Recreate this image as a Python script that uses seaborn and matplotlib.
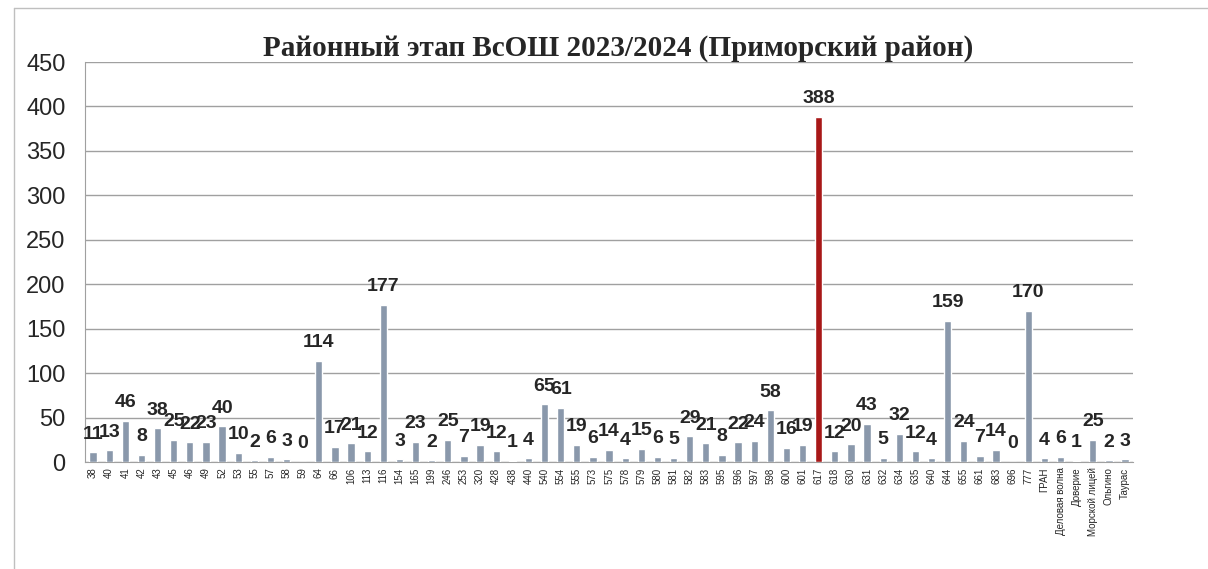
import numpy as np
import pandas as pd
import matplotlib
matplotlib.use("Agg")
import matplotlib.pyplot as plt
import seaborn as sns
from matplotlib.lines import Line2D

# --- данные ---
schools = ["38", "40", "41", "42", "43", "45", "46", "49", "52", "53", "55", "57", "58", "59",
           "64", "66", "106", "113", "116", "154", "165", "199", "246", "253", "320", "428",
           "438", "440", "540", "554", "555", "573", "575", "578", "579", "580", "581", "582",
           "583", "595", "596", "597", "598", "600", "601", "617", "618", "630", "631", "632",
           "634", "635", "640", "644", "655", "661", "683", "696", "777", "ГРАН",
           "Деловая волна", "Доверие", "Морской лицей", "Ольгино", "Таурас"]
participants = [11, 13, 46, 8, 38, 25, 22, 23, 40, 10, 2, 6, 3, 0,
                114, 17, 21, 12, 177, 3, 23, 2, 25, 7, 19, 12,
                1, 4, 65, 61, 19, 6, 14, 4, 15, 6, 5, 29,
                21, 8, 22, 24, 58, 16, 19, 388, 12, 20, 43, 5,
                32, 12, 4, 159, 24, 7, 14, 0, 170, 4,
                6, 1, 25, 2, 3]
highlight = "617"
title = "Районный этап ВсОШ 2023/2024 (Приморский район)"

df = pd.DataFrame({"school": schools, "n": participants})
colors = {s: ("#C00000" if s == highlight else "#8497B0") for s in schools}

sns.set_style("white")
plt.rcParams["font.family"] = ["Liberation Sans", "DejaVu Sans"]

fig = plt.figure(figsize=(12.08, 5.69), dpi=100)
ax = fig.add_axes([0.0704, 0.188, 0.8676, 0.703])

sns.barplot(data=df, x="school", y="n", hue="school", palette=colors,
            legend=False, width=0.45, ax=ax, zorder=3)

for cont in ax.containers:
    ax.bar_label(cont, padding=7, fontsize=14, fontweight="bold")

ax.set_xlim(-0.5, len(schools) - 0.5)
ax.set_ylim(0, 450)
ax.set_yticks(np.arange(0, 451, 50))
ax.tick_params(axis="y", labelsize=17, length=4, color="#A0A0A0", pad=10)
ax.tick_params(axis="x", which="major", labelsize=7, rotation=90, length=0, pad=4)
ax.set_xticks(np.arange(-0.5, len(schools), 1), minor=True)
ax.tick_params(axis="x", which="minor", length=5, color="#A0A0A0")
ax.yaxis.grid(True, color="#A0A0A0", lw=1, zorder=0)
ax.set_xlabel("")
ax.set_ylabel("")
for side in ["top", "right"]:
    ax.spines[side].set_visible(False)
for side in ["left", "bottom"]:
    ax.spines[side].set_color("#A0A0A0")

fig.text(0.512, 0.915, title, ha="center", va="center", fontsize=21,
         fontweight="bold", family="Liberation Serif")

# рамка области диаграммы
fig.add_artist(Line2D([0.0116, 0.0116], [0, 0.986], color="#BFBFBF", lw=1))
fig.add_artist(Line2D([0.0116, 1.0], [0.986, 0.986], color="#BFBFBF", lw=1))

fig.savefig("out.png", dpi=100)
